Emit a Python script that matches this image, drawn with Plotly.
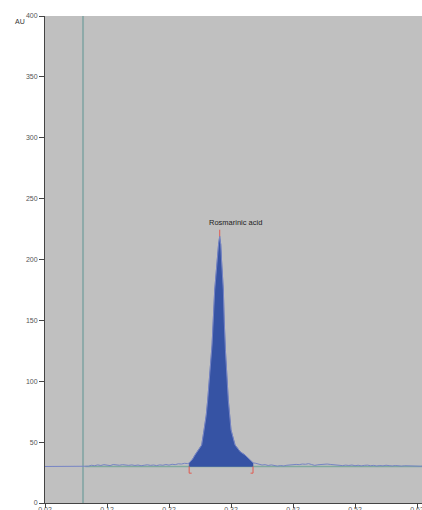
import plotly.graph_objects as go

# Chromatogram signal (retention time, absorbance in AU)
lead_time = [0.020, 0.088]
lead_au = [30.0, 30.0]

noise_left_time = [0.090, 0.095, 0.100, 0.105, 0.110, 0.115, 0.120, 0.125, 0.130, 0.135,
                   0.140, 0.145, 0.150, 0.155, 0.160, 0.165, 0.170, 0.175, 0.180, 0.185,
                   0.190, 0.195, 0.200, 0.205, 0.210, 0.215, 0.220, 0.225, 0.230, 0.235,
                   0.240, 0.245, 0.250]
noise_left_au = [30.2, 31.0, 30.6, 31.3, 30.8, 31.5, 31.2, 30.7, 31.6, 31.4,
                 31.0, 31.5, 31.1, 30.9, 31.3, 30.8, 31.2, 30.6, 31.0, 31.4,
                 30.9, 31.2, 30.7, 31.3, 31.0, 31.6, 31.1, 31.8, 31.5, 32.2,
                 32.0, 32.6, 32.4]

peak_time = [0.2525, 0.2539, 0.2580, 0.2619, 0.2660, 0.2700, 0.2727, 0.2765, 0.2800, 0.2824,
             0.2860, 0.2894, 0.2937, 0.2974, 0.3000, 0.3018, 0.3035, 0.3047, 0.3076, 0.3090,
             0.3110, 0.3156, 0.3200, 0.3265, 0.3300, 0.3350, 0.3426, 0.3480, 0.3534, 0.3555]
peak_au = [32.8, 33.7, 36.0, 39.4, 42.5, 45.5, 47.6, 60.0, 72.0, 84.6,
           108.0, 129.8, 175.0, 199.6, 213.0, 219.0, 212.0, 199.6, 175.0, 150.0,
           125.0, 84.6, 60.0, 47.6, 45.0, 42.0, 39.4, 36.5, 33.7, 33.0]

noise_right_time = [0.360, 0.365, 0.370, 0.375, 0.380, 0.385, 0.390, 0.395, 0.400, 0.405,
                    0.410, 0.415, 0.420, 0.425, 0.430, 0.435, 0.440, 0.445, 0.450, 0.455,
                    0.460, 0.465, 0.470, 0.475, 0.480, 0.485, 0.490, 0.495, 0.500, 0.505,
                    0.510, 0.515, 0.520, 0.525, 0.530, 0.535, 0.540, 0.545, 0.550, 0.555,
                    0.560, 0.565, 0.570, 0.575, 0.580, 0.585, 0.590, 0.595, 0.600, 0.605,
                    0.610, 0.615, 0.620, 0.625, 0.630]
noise_right_au = [32.6, 31.8, 31.2, 31.5, 30.8, 31.3, 30.6, 30.3, 30.8, 30.4,
                  31.0, 31.4, 31.2, 31.7, 31.5, 32.0, 31.8, 32.3, 31.6, 30.9,
                  31.4, 31.8, 31.6, 32.0, 31.7, 31.4, 31.0, 31.3, 30.7, 31.1,
                  30.8, 31.2, 30.6, 31.0, 30.5, 30.9, 31.1, 30.6, 30.9, 30.4,
                  30.8, 30.5, 31.0, 30.7, 30.4, 30.8, 30.5, 30.3, 30.6, 30.4,
                  30.2, 30.5, 30.3, 30.2, 30.3]

baseline_au = 30.0
baseline_start = 0.085
injection_time = 0.0813
peak_name = "Rosmarinic acid"
marker_depth = 24.5

x_ticks = [0.02, 0.12, 0.22, 0.32, 0.42, 0.52, 0.62]
y_ticks = [0, 50, 100, 150, 200, 250, 300, 350, 400]

signal_time = lead_time + noise_left_time + peak_time + noise_right_time
signal_au = lead_au + noise_left_au + peak_au + noise_right_au

apex_idx = peak_au.index(max(peak_au))
apex_time, apex_au = peak_time[apex_idx], peak_au[apex_idx]
peak_start, peak_end = peak_time[0], peak_time[-1]

fig = go.Figure()

# Injection marker
fig.add_trace(go.Scatter(x=[injection_time, injection_time], y=[0, 400], mode="lines",
                         line=dict(color="#8eaaa9", width=2), hoverinfo="skip"))

# Baseline
fig.add_trace(go.Scatter(x=[baseline_start, signal_time[-1]], y=[baseline_au, baseline_au],
                         mode="lines", line=dict(color="#80aa9e", width=1.5), hoverinfo="skip"))

# Integrated peak area
fill_x = [peak_start] + peak_time + [peak_end, peak_start]
fill_y = [baseline_au] + peak_au + [baseline_au, baseline_au]
fig.add_trace(go.Scatter(x=fill_x, y=fill_y, mode="lines", fill="toself",
                         fillcolor="#3653a4", line=dict(color="#3653a4", width=0.5),
                         hoverinfo="skip"))

# Detector trace
fig.add_trace(go.Scatter(x=signal_time, y=signal_au, mode="lines",
                         line=dict(color="#7684c4", width=1), hoverinfo="skip"))

# Integration start / end markers
fig.add_trace(go.Scatter(x=[peak_start + 0.004, peak_start, peak_start],
                         y=[marker_depth, marker_depth, baseline_au], mode="lines",
                         line=dict(color="#e05a50", width=1), hoverinfo="skip"))
fig.add_trace(go.Scatter(x=[peak_end - 0.004, peak_end, peak_end],
                         y=[marker_depth, marker_depth, baseline_au], mode="lines",
                         line=dict(color="#e05a50", width=1), hoverinfo="skip"))

# Apex tick
fig.add_trace(go.Scatter(x=[apex_time, apex_time], y=[apex_au, apex_au + 5.5], mode="lines",
                         line=dict(color="#e05a50", width=1), hoverinfo="skip"))

fig.add_annotation(x=apex_time + 0.025, y=apex_au + 6, text=peak_name, showarrow=False,
                   xanchor="center", yanchor="bottom",
                   font=dict(family="Liberation Sans", size=7.5, color="#222222"))

fig.add_annotation(x=-0.085, y=1.0, xref="paper", yref="paper", text="AU", showarrow=False,
                   xanchor="left", yanchor="top",
                   font=dict(family="Liberation Sans", size=7, color="#333333"))

fig.update_layout(
    width=422, height=510,
    margin=dict(l=45, r=0, t=16, b=7, autoexpand=False),
    paper_bgcolor="white", plot_bgcolor="#c0c0c0",
    showlegend=False,
    xaxis=dict(range=[0.02, 0.628], tickvals=x_ticks, ticktext=[f"{v:.2f}" for v in x_ticks],
               automargin=False, ticklabelstandoff=-4, ticklabeloverflow="allow",
               showgrid=False, zeroline=False, showline=True, linecolor="#444444", linewidth=1,
               ticks="outside", ticklen=4, tickcolor="#444444",
               tickfont=dict(family="Liberation Sans", size=7, color="#555555")),
    yaxis=dict(range=[0, 400], tickvals=y_ticks, showgrid=False, zeroline=False,
               automargin=False,
               showline=True, linecolor="#444444", linewidth=1,
               ticks="outside", ticklen=5, tickcolor="#444444",
               tickfont=dict(family="Liberation Sans", size=7, color="#555555")),
)

fig.write_html("out.html")
